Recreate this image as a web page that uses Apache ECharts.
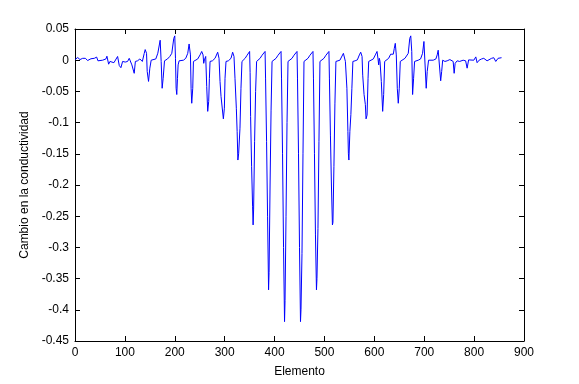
<!DOCTYPE html>
<html>
<head>
<meta charset="utf-8">
<script src="https://cdn.jsdelivr.net/npm/echarts@6/dist/echarts.min.js"></script>
<style>
  html, body { margin: 0; padding: 0; background: #fff; }
  #chart { width: 579px; height: 384px; }
</style>
</head>
<body>
<div id="chart"></div>
<script>
// vertices (element index, conductivity change)
const elementIdx = [
  0, 2, 5.4, 10, 15.4, 20.7, 25.4, 32, 38.7, 43.4, 46, 48.7, 55.4, 62, 64, 67.4, 70, 74, 78, 80.7,
  85.4, 88.7, 92, 95.4, 100.7, 105.4, 108.7, 114, 116.7, 118.7, 121, 125.4, 130, 135, 138.7, 140.7, 143.4, 144.7, 147.4, 150,
  152.7, 156.7, 162, 166, 168.7, 170.7, 172.7, 174.7, 176.7, 179.4, 185.4, 190, 194, 198, 200, 201.4, 202.7, 204, 205.4, 206.7,
  208.7, 212.7, 217.4, 222, 226, 228.7, 230.7, 231.4, 232.7, 234, 236, 237.4, 240.7, 246, 250.7, 254, 256.7, 258, 259.4, 260.7,
  262, 264, 266, 268, 269.4, 270.7, 275.4, 280.7, 286, 288.7, 290.7, 292.7, 295.4, 297.4, 299.4, 300.7, 302.7, 307.4, 312.7, 316,
  318.7, 320.7, 323.4, 325, 326.5, 328, 330.7, 332.7, 334.7,
  338, 341, 345, 350, 351, 352, 354, 356, 357, 358, 360, 362, 364,
  368, 371, 375, 381, 382, 384, 386, 388, 389, 391, 393, 395,
  399, 403, 407, 413, 414, 416, 418, 420, 421, 423, 425, 427,
  431, 435, 439, 445, 446, 448, 450, 452, 453, 455, 457, 459,
  463, 467, 471, 477, 478, 480, 482, 484, 485, 487, 489, 491,
  495, 499, 503, 509, 510, 512, 514, 516, 517, 519, 521, 523,
  527, 531, 535, 538, 540, 542, 545, 547, 548, 549, 551, 553, 555, 557,
  561.4, 566, 570, 572.7, 575.4, 576.7, 579.4, 582, 583.4, 585.4, 587.4, 588.7, 592.7, 598, 602, 605.4, 607.4, 608.7, 610, 611.4,
  614, 616.7, 618.7, 620.7, 624.7, 628.7, 632.7, 635.4, 638, 640, 642, 644, 646, 648, 650, 652, 655.4, 661.4, 665, 668,
  671, 673, 675, 676.7, 678.7, 680.7, 684.7, 688, 692.7, 696.7, 699.4, 702, 704, 706, 708.7, 712.7, 718, 723.4, 726, 728,
  731, 733, 735, 737, 741.4, 746, 751.4, 755, 758, 760, 762, 766, 771, 778, 783, 786, 789, 793, 799.4, 803.4,
  806, 810, 815, 819.4, 823.4, 826, 830, 835, 839.4, 843.4, 848, 851.4, 855
];
const conductivityChange = [
  0.001, 0.002, 0.0043, 0.001, 0.003, 0.003, -0.0005, 0.0023, 0.003, 0.005, -0.001, 0.0005, 0, 0.002, 0.0064, -0.0064, -0.002, 0, -0.004, -0.001,
  0.006, -0.0085, -0.012, -0.002, -0.003, -0.002, 0.003, -0.0075, -0.009, -0.021, -0.002, -0.001, 0.002, -0.002, 0.0107, 0.017, 0.011, -0.018, -0.034, -0.0128,
  0, -0.002, 0.002, 0.0112, 0.0139, 0.032, -0.002, -0.045, -0.029, -0.001, 0.002, 0.006, 0.011, 0.035, 0.039, 0.003, -0.045, -0.055, -0.029, -0.0075,
  -0.001, -0.002, 0, 0.003, 0.011, 0.026, 0.027, 0.0085, -0.045, -0.069, -0.045, -0.002, -0.001, 0.002, 0.0085, 0.014, 0.0085, -0.005, 0.0005, -0.002,
  0.006, -0.042, -0.082, -0.066, -0.029, -0.002, -0.001, 0.003, 0.0128, 0.003, -0.034, -0.058, -0.061, -0.094, -0.077, -0.029, -0.002, -0.001, 0.003, 0.0128,
  0.006, -0.029, -0.077, -0.114, -0.16, -0.15, -0.109, -0.045, -0.002,
  -0.001, 0.003, 0.008, 0.014, -0.02, -0.09, -0.17, -0.235, -0.264, -0.24, -0.13, -0.05, -0.002,
  -0.001, 0.003, 0.008, 0.014, -0.03, -0.13, -0.25, -0.368, -0.34, -0.2, -0.08, -0.002,
  -0.001, 0.003, 0.008, 0.014, -0.03, -0.15, -0.3, -0.419, -0.385, -0.25, -0.1, -0.002,
  -0.001, 0.003, 0.008, 0.014, -0.03, -0.15, -0.3, -0.419, -0.4, -0.31, -0.15, -0.002,
  -0.001, 0.003, 0.008, 0.014, -0.03, -0.15, -0.28, -0.368, -0.35, -0.27, -0.13, -0.002,
  -0.001, 0.003, 0.008, 0.014, -0.03, -0.12, -0.2, -0.264, -0.26, -0.17, -0.07, -0.002,
  -0.001, 0, 0.0005, 0.011, 0.014, -0.002, -0.045, -0.114, -0.15, -0.16, -0.114, -0.087, -0.045, -0.002,
  -0.001, 0.0005, 0.0085, 0.0128, 0.006, -0.024, -0.055, -0.071, -0.094, -0.088, -0.029, -0.002, -0.001, 0.002, 0.0085, 0.014, 0.002, -0.0075, 0.003, -0.002,
  -0.034, -0.082, -0.055, -0.002, -0.001, 0.003, 0.0096, 0.0128, 0.0096, 0.019, 0.027, 0.0085, -0.045, -0.069, -0.045, -0.002, -0.001, 0.003, 0.004, 0.011,
  0.035, 0.039, 0.014, -0.055, -0.029, -0.002, -0.002, 0, 0.002, 0.011, 0.03, 0.027, -0.045, -0.018, 0, -0.002, 0, 0.002, 0.0085, 0.016,
  0.015, -0.033, -0.018, 0, -0.002, -0.001, 0.001, 0.003, -0.002, -0.021, -0.005, -0.001, -0.002, 0, -0.001, -0.0128, 0.0005, 0.001, 0, 0.0053,
  -0.004, 0, 0.002, 0.003, 0.0053, -0.001, 0.002, 0.003, 0.004, -0.002, 0.003, 0.005, 0.004
];

const xTicks = [0, 900, 100];
const yTicks = [-0.45, 0.05, 0.05];

const chart = echarts.init(document.getElementById('chart'));
const font = 'Liberation Sans, Arial, sans-serif';

const boxAxis = {
  axisLine: { show: true, onZero: false, lineStyle: { color: '#000', width: 1 } },
  axisTick: { show: true, inside: true, length: 5, lineStyle: { color: '#000' } },
  splitLine: { show: false }
};

chart.setOption({
  animation: false,
  backgroundColor: '#fff',
  grid: { left: 75, right: 55, top: 29, bottom: 43 },
  xAxis: [
    {
      ...boxAxis,
      type: 'value', position: 'bottom',
      min: xTicks[0], max: xTicks[1], interval: xTicks[2],
      axisLabel: { color: '#000', fontFamily: font, fontSize: 12, margin: 6 },
      name: 'Elemento', nameLocation: 'middle', nameGap: 25,
      nameTextStyle: { color: '#000', fontFamily: font, fontSize: 12 }
    },
    {
      ...boxAxis,
      type: 'value', position: 'top',
      min: xTicks[0], max: xTicks[1], interval: xTicks[2],
      axisLabel: { show: false }
    }
  ],
  yAxis: [
    {
      ...boxAxis,
      type: 'value', position: 'left',
      min: yTicks[0], max: yTicks[1], interval: yTicks[2],
      axisLabel: {
        color: '#000', fontFamily: font, fontSize: 12, margin: 6,
        formatter: v => String(parseFloat(v.toFixed(2)))
      },
      name: 'Cambio en la conductividad', nameLocation: 'middle', nameGap: 41,
      nameTextStyle: { color: '#000', fontFamily: font, fontSize: 12 }
    },
    {
      ...boxAxis,
      type: 'value', position: 'right',
      min: yTicks[0], max: yTicks[1], interval: yTicks[2],
      axisLabel: { show: false }
    }
  ],
  series: [
    {
      type: 'line',
      data: elementIdx.map((x, i) => [x, conductivityChange[i]]),
      showSymbol: false,
      symbol: 'none',
      lineStyle: { color: '#0000ff', width: 1 },
      silent: true
    }
  ]
});
</script>
</body>
</html>
